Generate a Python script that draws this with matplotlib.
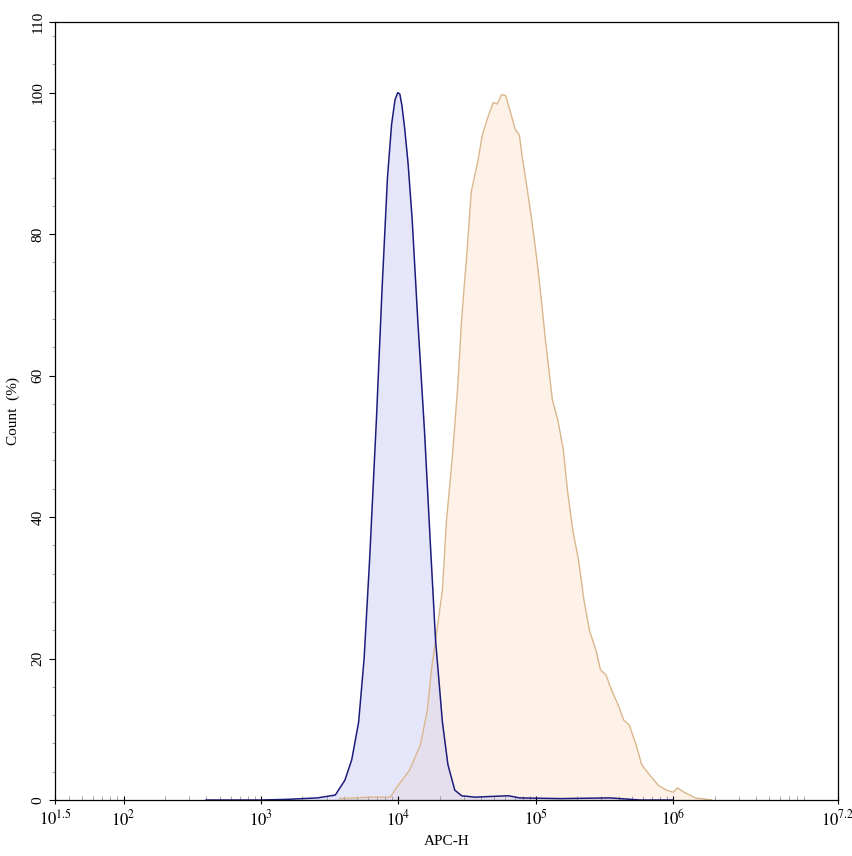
import numpy as np
import matplotlib.pyplot as plt

plt.rcParams['font.family'] = ['Liberation Serif', 'DejaVu Serif']
plt.rcParams['mathtext.fontset'] = 'stix'

# blue histogram (log10 of APC-H, count %)
blue_log = [2.6, 3.0, 3.2, 3.41, 3.54, 3.61, 3.66, 3.71, 3.75, 3.79, 3.84, 3.88, 3.92,
            3.95, 3.975, 3.995, 4.01, 4.025, 4.045, 4.07, 4.10, 4.14, 4.19, 4.23, 4.27,
            4.32, 4.36, 4.41, 4.46, 4.56, 4.67, 4.80, 4.88, 5.18, 5.54, 5.76, 6.0]
blue_cnt = [0.0, 0.0, 0.1, 0.3, 0.7, 2.8, 5.7, 11, 20, 34, 54, 72, 88,
            95.5, 99, 100, 99.8, 98.2, 95, 90, 82, 68, 52, 37, 22.6,
            11, 5, 1.4, 0.6, 0.4, 0.5, 0.6, 0.3, 0.2, 0.3, 0.0, 0.0]

# orange histogram
orange_log = [3.57, 3.79, 3.94, 4.01, 4.08, 4.16, 4.21, 4.24, 4.28, 4.32, 4.35, 4.39,
              4.43, 4.46, 4.50, 4.53, 4.58, 4.61, 4.65, 4.69, 4.72, 4.75, 4.78, 4.81,
              4.85, 4.88, 4.90, 4.94, 4.97, 5.01, 5.04, 5.07, 5.10, 5.12, 5.16, 5.20,
              5.23, 5.27, 5.31, 5.35, 5.39, 5.44, 5.47, 5.51, 5.55, 5.60, 5.64, 5.68,
              5.73, 5.77, 5.83, 5.89, 5.95, 6.0, 6.03, 6.08, 6.16, 6.28]
orange_cnt = [0.2, 0.4, 0.4, 2.4, 4.2, 7.8, 12.7, 18.4, 24, 29.7, 39.6, 48,
              58, 68, 77.8, 86, 90.5, 94, 96.5, 98.6, 98.4, 99.7, 99.6, 97.6,
              94.8, 94, 91, 86, 82, 76, 70.7, 65, 60, 56.6, 53.7, 49.5,
              43.8, 38, 34, 28.3, 24, 21, 18.4, 17.7, 15.6, 13.4, 11.3, 10.6,
              7.8, 5, 3.5, 2.1, 1.4, 1.1, 1.7, 1.1, 0.3, 0.0]

xtick_exp = [1.5, 2, 3, 4, 5, 6, 7.2]
xtick_lab = ['$10^{1.5}$', '$10^{2}$', '$10^{3}$', '$10^{4}$', '$10^{5}$', '$10^{6}$', '$10^{7.2}$']
ytick_vals = [0, 20, 40, 60, 80, 100, 110]

fig = plt.figure(figsize=(8.53, 8.56), dpi=100)
ax = fig.add_axes([0.0645, 0.0654, 0.918, 0.909])

bx = 10 ** np.array(blue_log)
ox = 10 ** np.array(orange_log)

ax.fill_between(ox, orange_cnt, color='#fee9d6', alpha=0.55, lw=0)
ax.fill_between(bx, blue_cnt, color='#c8c8f4', alpha=0.45, lw=0)
ax.plot(ox, orange_cnt, color='#dab78c', lw=1)
ax.plot(bx, blue_cnt, color='#1c1c7c', lw=1.1)

ax.set_xscale('log')
ax.set_xlim(10 ** 1.5, 10 ** 7.2)
ax.set_ylim(0, 110)

ax.set_xticks([10 ** e for e in xtick_exp])
ax.set_xticklabels(xtick_lab, fontsize=12)
minor = [m * 10 ** d for d in range(1, 8) for m in range(2, 10)
         if 10 ** 1.5 < m * 10 ** d < 10 ** 7.2]
ax.set_xticks(minor, minor=True)
ax.xaxis.set_minor_formatter(plt.NullFormatter())

ax.set_yticks(ytick_vals)
ax.set_yticklabels([str(v) for v in ytick_vals], rotation=90, va='center', fontsize=11)
ax.set_yticks(np.arange(0, 111, 4), minor=True)

ax.tick_params(axis='x', which='major', direction='inout', length=6, width=0.8)
ax.tick_params(axis='x', which='minor', direction='in', length=3, width=0.6, color='#999999')
ax.tick_params(axis='y', which='major', direction='out', length=4, width=0.8)
ax.tick_params(axis='y', which='minor', direction='out', length=2, width=0.6, color='#999999')

for s in ax.spines.values():
    s.set_linewidth(0.9)

ax.set_xlabel('APC-H', fontsize=11, labelpad=4)
ax.set_ylabel('Count  (%)', fontsize=11, labelpad=8)

fig.savefig('out.png', dpi=100)
